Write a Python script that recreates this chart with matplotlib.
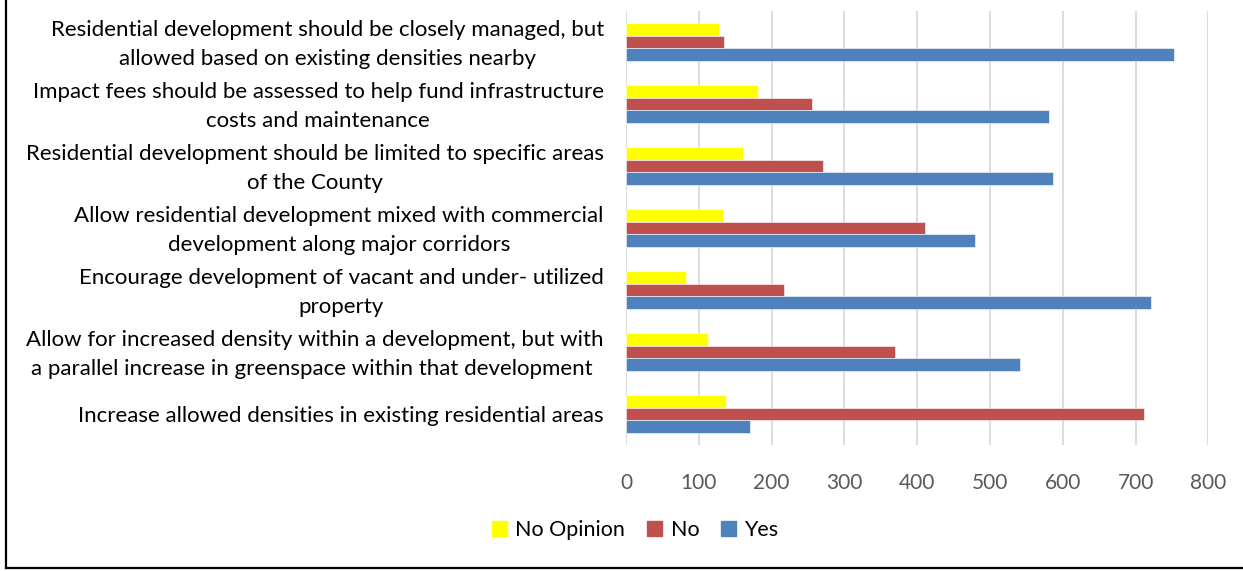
import matplotlib
matplotlib.use("Agg")
import matplotlib.pyplot as plt
import matplotlib.transforms as mtransforms
import numpy as np
from matplotlib.lines import Line2D

plt.rcParams["font.family"] = ["Lato", "DejaVu Sans"]

categories = [
    "Residential development should be closely managed, but\nallowed based on existing densities nearby",
    "Impact fees should be assessed to help fund infrastructure\ncosts and maintenance",
    "Residential development should be limited to specific areas\nof the County",
    "Allow residential development mixed with commercial\ndevelopment along major corridors",
    "Encourage development of vacant and under- utilized\nproperty",
    "Allow for increased density within a development, but with\na parallel increase in greenspace within that development ",
    "Increase allowed densities in existing residential areas",
]
no_opinion = [128, 181, 161, 133, 82, 112, 138]
no = [134, 256, 270, 411, 217, 369, 711]
yes = [753, 581, 586, 480, 721, 541, 170]
x_ticks = [0, 100, 200, 300, 400, 500, 600, 700, 800]

YELLOW, RED, BLUE = "#FFFF00", "#C0504D", "#4F81BD"

fig = plt.figure(figsize=(12.43, 5.71), dpi=100)
ax = fig.add_axes([0.5036, 0.2207, 0.4686, 0.7600])

y = np.arange(len(categories))
h = 0.205
ax.barh(y - h, no_opinion, height=h, color=YELLOW, edgecolor="white", linewidth=0.4, label="No Opinion", zorder=3)
ax.barh(y, no, height=h, color=RED, edgecolor="white", linewidth=0.4, label="No", zorder=3)
ax.barh(y + h, yes, height=h, color=BLUE, edgecolor="white", linewidth=0.4, label="Yes", zorder=3)

ax.set_ylim(len(categories) - 0.5, -0.5)
ax.set_xlim(0, 800)
ax.set_xticks(x_ticks)
ax.set_yticks(y)
ax.set_yticklabels(categories, fontsize=16, color="#000000", multialignment="center", linespacing=1.55)
ax.tick_params(axis="y", length=0, pad=16)
ax.tick_params(axis="x", length=0, pad=20, labelsize=15, labelcolor="#595959")
ax.grid(axis="x", color="#D9D9D9", linewidth=1.3, zorder=0)
for s in ax.spines.values():
    s.set_visible(False)

# two-line labels sit a touch higher in the original
lift = mtransforms.ScaledTranslation(0, 3 / 72, fig.dpi_scale_trans)
for lab in ax.get_yticklabels():
    if "\n" in lab.get_text():
        lab.set_transform(lab.get_transform() + lift)

handles = [
    plt.Rectangle((0, 0), 1, 1, color=YELLOW),
    plt.Rectangle((0, 0), 1, 1, color=RED),
    plt.Rectangle((0, 0), 1, 1, color=BLUE),
]
fig.legend(handles, ["No Opinion", "No", "Yes"], loc="center", bbox_to_anchor=(0.511, 0.072),
           ncol=3, frameon=False, fontsize=15.5, handlelength=0.7, handleheight=0.7,
           handletextpad=0.4, columnspacing=1.0)

# frame left and bottom
fig.add_artist(Line2D([6 / 1243, 6 / 1243], [3 / 571, 1.0], color="black", linewidth=1.6,
                      transform=fig.transFigure))
fig.add_artist(Line2D([6 / 1243, 1.0], [3 / 571, 3 / 571], color="black", linewidth=1.6,
                      transform=fig.transFigure))

fig.savefig("out.png", dpi=100)
